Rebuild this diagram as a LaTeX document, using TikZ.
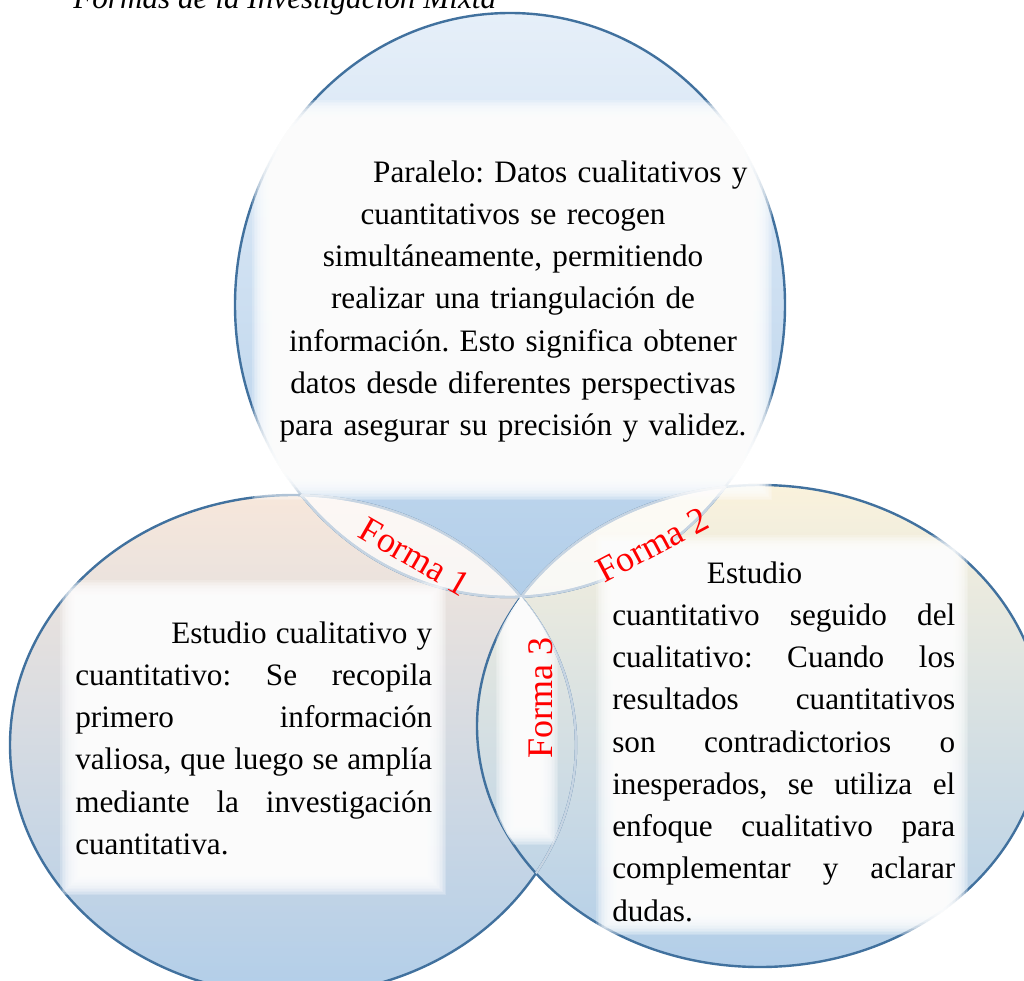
\documentclass[tikz,border=0pt]{standalone}
\usepackage{fontspec}
\setmainfont{Liberation Serif}
\frenchspacing

\definecolor{ringline}{RGB}{65,113,158}
\definecolor{topsky}{RGB}{230,239,249}
\definecolor{lowsky}{RGB}{178,206,233}
\definecolor{peach}{RGB}{247,231,219}
\definecolor{mist}{RGB}{221,225,235}
\definecolor{cream}{RGB}{250,242,220}
\definecolor{sage}{RGB}{227,233,224}
\definecolor{formared}{RGB}{255,0,0}

\newcommand{\ringtop}{(510,305) ellipse [x radius=275, y radius=292]}
\newcommand{\ringleft}{(293,745) ellipse [x radius=283, y radius=250]}
\newcommand{\ringright}{(760,726) ellipse [x radius=283, y radius=241]}

% soft white glow: [step]{x1}{y1}{x2}{y2}
\newcommand{\softbox}[5][1.5]{%
  \foreach \k in {0,...,19}{
    \fill[white, fill opacity=0.2] (#2+\k*#1,#3+\k*#1) rectangle (#4-\k*#1,#5-\k*#1);
  }%
}

\begin{document}
\begin{tikzpicture}[
    x=0.75pt, y=-0.75pt,
    ring/.style={draw=ringline, line width=1.8pt},
    faintring/.style={draw=ringline!30, line width=1.8pt},
    bodytext/.style={inner sep=0pt, font=\fontsize{23.4}{31.7}\selectfont},
    formalabel/.style={inner sep=0pt, text=formared, font=\fontsize{27}{30}\selectfont},
]
\useasboundingbox (0,0) rectangle (1024,981);
\clip (0,0) rectangle (1024,981);

\node[anchor=base west, inner sep=0pt, font=\fontsize{23.4}{28}\selectfont\itshape] (titulo) at (73,9) {Formas de la Investigación Mixta};

% rings
\shade[top color=topsky, bottom color=lowsky] \ringtop;
\shade[top color=peach, middle color=mist, bottom color=lowsky] \ringleft;
\shade[top color=cream, middle color=sage, bottom color=lowsky] \ringright;
\draw[ring] \ringtop;
\draw[ring] \ringleft;
\draw[ring] \ringright;

% overlaps
\begin{scope}
  \clip \ringleft;
  \fill[white, fill opacity=0.7] \ringtop;
  \draw[faintring] \ringtop;
\end{scope}
\begin{scope}
  \clip \ringright;
  \fill[white, fill opacity=0.7] \ringtop;
  \draw[faintring] \ringtop;
  \draw[faintring] \ringleft;
\end{scope}
\begin{scope}
  \clip \ringtop;
  \draw[faintring] \ringleft;
  \draw[faintring] \ringright;
\end{scope}
\begin{scope}
  \clip \ringleft;
  \clip \ringright;
  \softbox[1.4]{496}{570}{558}{845}
\end{scope}

% text glows
\softbox{252}{100}{772}{500}
\softbox{60}{580}{446}{895}
\softbox{596}{535}{968}{935}

\node[formalabel, rotate=-30] (forma1) at (415,557) {Forma 1};
\node[formalabel, rotate=28] (forma2) at (652,545) {Forma 2};
\node[formalabel, rotate=90] (forma3) at (541,698) {Forma 3};

\node[bodytext, text width=400pt, align=center, anchor=base] (paralelo) at (513,182)
  {\hspace*{71pt}Paralelo: Datos cualitativos y\\ cuantitativos se recogen\\ simultáneamente, permitiendo\\ realizar una triangulación de\\ información. Esto significa obtener\\ datos desde diferentes perspectivas\\ para asegurar su precisión y validez.};

\node[bodytext, text width=267.75pt, align=justify, anchor=base west] (cualitativo) at (75,643)
  {\hspace*{72pt}Estudio cualitativo y\linebreak cuantitativo: Se recopila\linebreak primero información\linebreak valiosa, que luego se amplía\linebreak mediante la investigación\linebreak cuantitativa.};

\node[bodytext, text width=257.25pt, align=justify, anchor=base west] (cuantitativo) at (612,583)
  {\hspace*{71pt}Estudio\linebreak cuantitativo seguido del\linebreak cualitativo: Cuando los\linebreak resultados cuantitativos\linebreak son contradictorios o\linebreak inesperados, se utiliza el\linebreak enfoque cualitativo para\linebreak complementar y aclarar\linebreak dudas.};
\end{tikzpicture}
\end{document}
